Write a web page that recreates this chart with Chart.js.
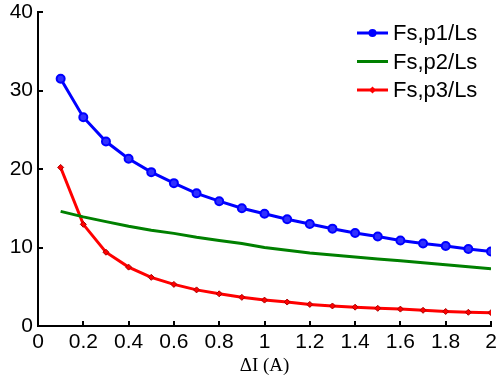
<!DOCTYPE html>
<html>
<head>
<meta charset="utf-8">
<script src="https://cdn.jsdelivr.net/npm/chart.js@4/dist/chart.umd.min.js"></script>
<style>
html,body{margin:0;padding:0;background:#fff;}
#wrap{width:497px;height:384px;}
</style>
</head>
<body>
<div id="wrap"><canvas id="c" width="497" height="384"></canvas></div>
<script>
const currents = [0.1,0.2,0.3,0.4,0.5,0.6,0.7,0.8,0.9,1.0,1.1,1.2,1.3,1.4,1.5,1.6,1.7,1.8,1.9,2.0];
const fsP1 = [31.5,26.6,23.5,21.3,19.6,18.2,16.9,15.9,15.0,14.3,13.6,13.0,12.4,11.85,11.4,10.9,10.5,10.2,9.8,9.5];
const fsP2 = [14.6,13.9,13.3,12.7,12.2,11.8,11.3,10.9,10.5,10.0,9.65,9.3,9.05,8.8,8.55,8.3,8.05,7.8,7.55,7.3];
const fsP3 = [20.2,12.95,9.4,7.5,6.2,5.3,4.6,4.1,3.65,3.3,3.05,2.75,2.55,2.4,2.25,2.15,2.0,1.85,1.75,1.7];
const seriesNames = ['Fs,p1/Ls','Fs,p2/Ls','Fs,p3/Ls'];
const xTickValues = [0,0.2,0.4,0.6,0.8,1,1.2,1.4,1.6,1.8,2];
const xTickLabels = ['0','0.2','0.4','0.6','0.8','1','1.2','1.4','1.6','1.8','2'];
const yTickValues = [0,10,20,30,40];
const yTickLabels = ['0','10','20','30','40'];
const xTitle = 'ΔI (A)';

function pts(ys){ return currents.map((x,i)=>({x:x,y:ys[i]})); }

const inwardTicks = {
  id:'inwardTicks',
  afterDatasetsDraw(chart){
    const ctx = chart.ctx, xs = chart.scales.x, ys = chart.scales.y, a = chart.chartArea;
    ctx.save();
    ctx.strokeStyle = '#000'; ctx.lineWidth = 2;
    xTickValues.forEach(v=>{
      const px = Math.round(xs.getPixelForValue(v));
      ctx.beginPath(); ctx.moveTo(px, a.bottom); ctx.lineTo(px, a.bottom-5); ctx.stroke();
    });
    yTickValues.forEach(v=>{
      const py = Math.round(ys.getPixelForValue(v));
      ctx.beginPath(); ctx.moveTo(a.left, py); ctx.lineTo(a.left+5, py); ctx.stroke();
    });
    ctx.restore();
  }
};

const customLegend = {
  id:'customLegend',
  afterDraw(chart){
    const ctx = chart.ctx;
    ctx.save();
    const x0 = 357, x1 = 388, tx = 393;
    const rows = [33, 61.5, 90];
    chart.data.datasets.forEach((ds,i)=>{
      const y = rows[i];
      ctx.strokeStyle = ds.borderColor; ctx.lineWidth = 3;
      ctx.beginPath(); ctx.moveTo(x0,y); ctx.lineTo(x1,y); ctx.stroke();
      const mx = (x0+x1)/2;
      if(ds.pointStyle==='circle' && ds.pointRadius>0){
        ctx.fillStyle = ds.borderColor;
        ctx.beginPath(); ctx.arc(mx,y,4,0,Math.PI*2); ctx.fill();
      } else if(ds.pointStyle==='rectRot' && ds.pointRadius>0){
        ctx.fillStyle = ds.borderColor;
        ctx.beginPath(); ctx.moveTo(mx,y-3.5); ctx.lineTo(mx+3.5,y); ctx.lineTo(mx,y+3.5); ctx.lineTo(mx-3.5,y); ctx.closePath(); ctx.fill();
      }
      ctx.fillStyle = '#000';
      ctx.font = '22px "Liberation Sans", Arial, sans-serif';
      ctx.textBaseline = 'middle'; ctx.textAlign = 'left';
      ctx.fillText(ds.label, tx, y+1);
    });
    ctx.restore();
  }
};

new Chart(document.getElementById('c'), {
  type:'line',
  data:{
    datasets:[
      {label:seriesNames[0], data:pts(fsP1), borderColor:'#0000ff', backgroundColor:'#0000ff', borderWidth:3,
       pointStyle:'circle', pointRadius:4, pointBorderWidth:2, pointBackgroundColor:'#3030ff', pointBorderColor:'#0000ff', tension:0},
      {label:seriesNames[1], data:pts(fsP2), borderColor:'#008000', backgroundColor:'#008000', borderWidth:3,
       pointStyle:'circle', pointRadius:0, tension:0},
      {label:seriesNames[2], data:pts(fsP3), borderColor:'#ff0000', backgroundColor:'#ff0000', borderWidth:3,
       pointStyle:'rectRot', pointRadius:3, pointBorderWidth:1, pointBackgroundColor:'#ff0000', pointBorderColor:'#aa0000', tension:0}
    ]
  },
  options:{
    responsive:false, animation:false,
    layout:{padding:{left:0,right:6,top:12,bottom:0}},
    plugins:{legend:{display:false}, tooltip:{enabled:false}},
    scales:{
      x:{type:'linear', min:0, max:2,
         afterBuildTicks(s){ s.ticks = xTickValues.map(v=>({value:v})); },
         afterFit(s){ s.height = 58; s.paddingLeft = 0; s.paddingRight = 0; },
         ticks:{callback:(v,i)=>xTickLabels[i], color:'#000', padding:4, maxRotation:0, autoSkip:false,
                font:{family:'"Liberation Sans", Arial, sans-serif', size:21}},
         grid:{display:true, drawOnChartArea:false, drawTicks:false},
         border:{display:true, color:'#000', width:2},
         title:{display:true, text:xTitle, color:'#000', padding:{top:0,bottom:7},
                font:{family:'"Liberation Serif", "Times New Roman", serif', size:19}}
      },
      y:{type:'linear', min:0, max:40,
         afterBuildTicks(s){ s.ticks = yTickValues.map(v=>({value:v})); },
         afterFit(s){ s.width = 38; s.paddingTop = 0; s.paddingBottom = 0; },
         ticks:{callback:(v,i)=>yTickLabels[i], color:'#000', padding:5,
                font:{family:'"Liberation Sans", Arial, sans-serif', size:21}},
         grid:{display:true, drawOnChartArea:false, drawTicks:false},
         border:{display:true, color:'#000', width:2}
      }
    }
  },
  plugins:[inwardTicks, customLegend]
});
</script>
</body>
</html>
